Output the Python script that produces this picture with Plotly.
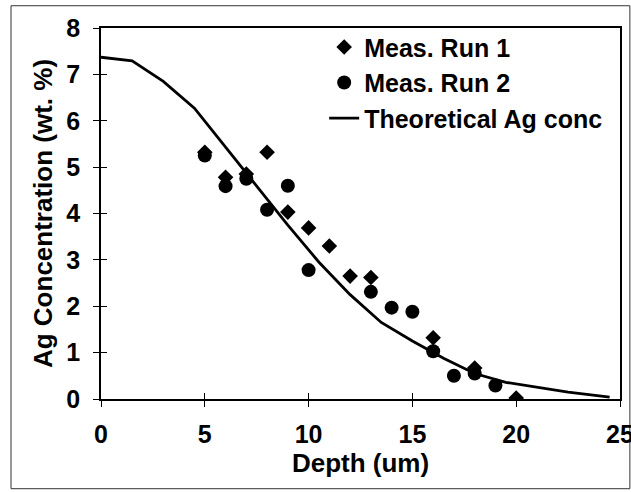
import plotly.graph_objects as go

# Measured data
run1_depth = [5, 6, 7, 8, 9, 10, 11, 12, 13, 16, 18, 20]
run1_conc = [5.32, 4.78, 4.85, 5.32, 4.03, 3.69, 3.30, 2.65, 2.62, 1.32, 0.67, 0.02]

run2_depth = [5, 6, 7, 8, 9, 10, 13, 14, 15, 16, 17, 18, 19]
run2_conc = [5.25, 4.59, 4.75, 4.08, 4.60, 2.78, 2.31, 1.97, 1.88, 1.03, 0.50, 0.55, 0.29]

theory_depth = [0, 1.5, 3, 4.5, 6, 7.5, 9, 10.5, 12, 13.5, 15, 16.5, 18, 19.5, 21, 22.5, 24.5]
theory_conc = [7.37, 7.29, 6.85, 6.27, 5.43, 4.6, 3.75, 2.95, 2.25, 1.65, 1.25, 0.88, 0.55, 0.36, 0.25, 0.15, 0.04]

x_ticks = [0, 5, 10, 15, 20, 25]
y_ticks = [0, 1, 2, 3, 4, 5, 6, 7, 8]

FONT = "Liberation Sans, Arial, sans-serif"

fig = go.Figure()
fig.add_trace(go.Scatter(x=run1_depth, y=run1_conc, mode="markers", name="Meas. Run 1",
                         marker=dict(symbol="diamond", size=12, color="black")))
fig.add_trace(go.Scatter(x=run2_depth, y=run2_conc, mode="markers", name="Meas. Run 2",
                         marker=dict(symbol="circle", size=14, color="black")))
fig.add_trace(go.Scatter(x=theory_depth, y=theory_conc, mode="lines", name="Theoretical Ag conc",
                         line=dict(color="black", width=2.8)))
# empty trace so the overlay axes (inner tick halves) are drawn
fig.add_trace(go.Scatter(x=[], y=[], xaxis="x2", yaxis="y2", showlegend=False, hoverinfo="skip"))

axis_common = dict(showgrid=False, zeroline=False, linecolor="black", linewidth=1.5,
                   mirror=True, ticks="outside", ticklen=6, tickwidth=1, tickcolor="black",
                   automargin=False, ticklabeloverflow="allow",
                   tickfont=dict(family=FONT, size=25, color="black", weight="bold"))

fig.update_layout(
    width=631, height=492,
    margin=dict(l=101, r=11, t=28, b=93),
    paper_bgcolor="white", plot_bgcolor="white",
    font=dict(family=FONT, color="black"),
    xaxis=dict(range=[0, 25], tickvals=x_ticks, ticklabelstandoff=6,
               title=dict(text="<b>Depth (um)</b>", font=dict(family=FONT, size=26), standoff=2),
               **axis_common),
    yaxis=dict(range=[0, 8], tickvals=y_ticks, ticklabelstandoff=8,
               title=dict(text="<b>Ag Concentration (wt. %)</b>", font=dict(family=FONT, size=26), standoff=6),
               **axis_common),
    xaxis2=dict(overlaying="x", anchor="y", range=[0, 25], tickvals=x_ticks, ticks="inside",
                ticklen=6, tickcolor="black", showticklabels=False, showgrid=False,
                zeroline=False, showline=False, automargin=False),
    yaxis2=dict(overlaying="y", anchor="x", range=[0, 8], tickvals=y_ticks, ticks="inside",
                ticklen=6, tickcolor="black", showticklabels=False, showgrid=False,
                zeroline=False, showline=False, automargin=False),
    legend=dict(x=0.43, y=1.01, xanchor="left", yanchor="top", bgcolor="rgba(0,0,0,0)",
                font=dict(family=FONT, size=25, color="black", weight="bold"),
                tracegroupgap=0),
    showlegend=True,
    shapes=[dict(type="rect", xref="paper", yref="paper", x0=-0.1734, x1=1.019,
                 y0=-0.2418, y1=1.060, line=dict(color="#333", width=1), layer="below")],
)

fig.write_html("out.html")
